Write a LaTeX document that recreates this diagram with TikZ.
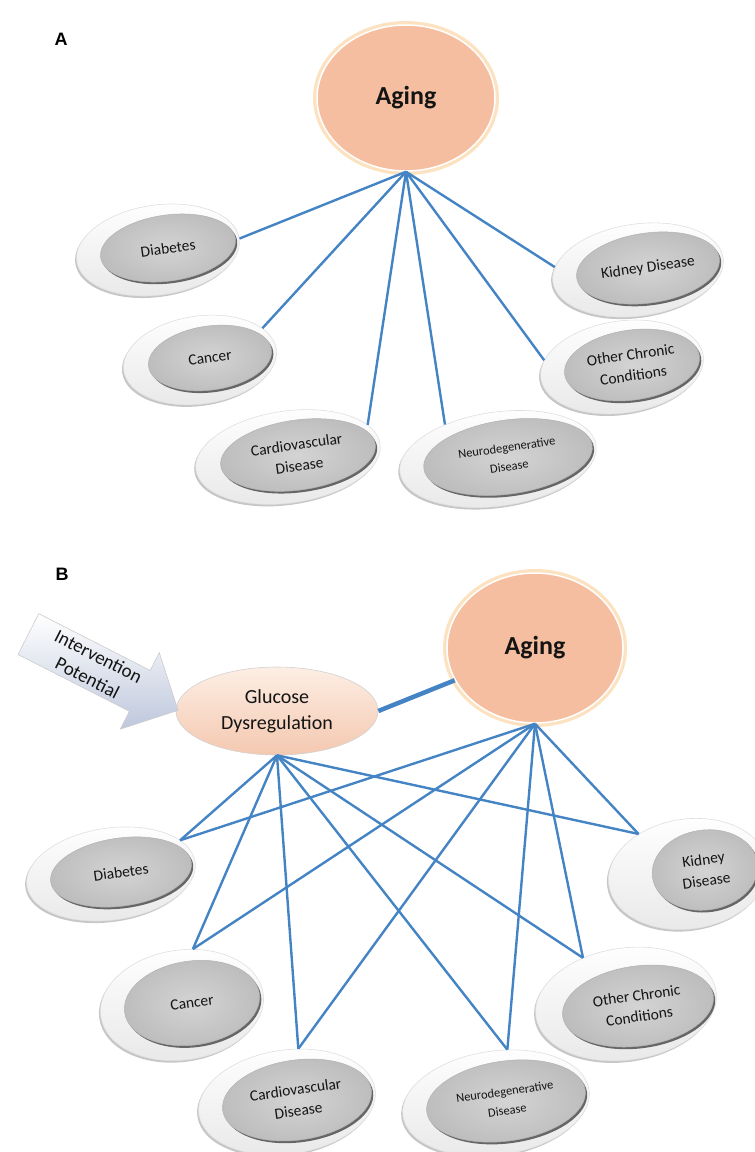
\documentclass[tikz,border=0pt]{standalone}
\usepackage{fontspec}
\setmainfont{Carlito}
\newfontfamily\panelfont{Liberation Sans}
\usetikzlibrary{shapes.geometric,shapes.arrows}

\definecolor{linkblue}{RGB}{68,132,196}
\definecolor{peach}{RGB}{245,190,160}
\definecolor{peachglow}{RGB}{252,226,192}
\definecolor{glutop}{RGB}{253,238,228}
\definecolor{glubot}{RGB}{244,200,176}
\definecolor{arrowblue}{RGB}{190,199,220}
\definecolor{inktext}{RGB}{20,20,20}

\tikzset{
    link/.style={draw=linkblue, line width=2.4pt},
    biglink/.style={draw=linkblue, line width=4.5pt},
    agingnode/.style={ellipse, inner sep=0pt, fill=peach, draw=white, line width=1.5pt,
        preaction={draw=peachglow, line width=8pt}, text=inktext,
        font=\fontsize{26}{30}\selectfont\bfseries},
    glunode/.style={ellipse, inner sep=0pt, top color=glutop, bottom color=glubot,
        draw=gray!35, line width=0.6pt, text=inktext, align=center,
        font=\fontsize{20}{26}\selectfont},
    sickback/.style={ellipse, rotate=8, inner sep=0pt, top color=white, bottom color=gray!18,
        draw=gray!25, line width=0.6pt,
        preaction={fill=gray!45, transform canvas={shift={(-1.5pt,-2pt)}}}},
    sickfront/.style={ellipse, rotate=8, inner sep=0pt, inner color=gray!34, outer color=gray!52,
        draw=gray!60, line width=0.5pt,
        preaction={fill=black!60, transform canvas={shift={(1.8pt,-2.2pt)}}},
        text=inktext, align=center, font=\fontsize{15.5}{21}\selectfont},
    smalltext/.style={font=\fontsize{12.5}{19}\selectfont},
    intervarrow/.style={single arrow, single arrow head extend=20pt, inner sep=4pt,
        top color=white, bottom color=arrowblue, draw=gray!40, line width=0.6pt,
        text=inktext, align=center, font=\fontsize{19}{24}\selectfont},
    panellabel/.style={font=\panelfont\fontsize{18}{20}\selectfont\bfseries}
}

\begin{document}
\begin{tikzpicture}[x=1pt, y=-1pt]
    \useasboundingbox (0,0) rectangle (755,1152);

    % panel A
    \node[panellabel] (labA) at (61,39) {A};
    \node[agingnode, minimum width=178pt, minimum height=146pt] (agingA) at (406,98) {Aging};

    \node[sickback, minimum width=164pt, minimum height=90pt] (diaA) at (158,250) {};
    \node[sickfront, minimum width=136pt, minimum height=66pt] (diaAf) at (168,248) {Diabetes};
    \node[sickback, minimum width=154pt, minimum height=88pt] (canA) at (200,360) {};
    \node[sickfront, minimum width=124pt, minimum height=64pt] (canAf) at (210,358) {Cancer};
    \node[sickback, minimum width=186pt, minimum height=92pt] (carA) at (288,457) {};
    \node[sickfront, minimum width=156pt, minimum height=70pt] (carAf) at (298,455) {Cardiovascular\\Disease};
    \node[sickback, minimum width=198pt, minimum height=94pt] (neuA) at (498,459) {};
    \node[sickfront, smalltext, minimum width=170pt, minimum height=74pt] (neuAf) at (508,457) {Neurodegenerative\\Disease};
    \node[sickback, minimum width=164pt, minimum height=92pt] (othA) at (622,367) {};
    \node[sickfront, minimum width=136pt, minimum height=70pt] (othAf) at (632,365) {Other Chronic\\Conditions};
    \node[sickback, minimum width=172pt, minimum height=92pt] (kidA) at (638,270) {};
    \node[sickfront, minimum width=144pt, minimum height=70pt] (kidAf) at (648,268) {Kidney Disease};

    \draw[link] (agingA.south) -- (diaA.0);
    \draw[link] (agingA.south) -- (canA.19);
    \draw[link] (agingA.south) -- (carA.14);
    \draw[link] (agingA.south) -- (neuA.139);
    \draw[link] (agingA.south) -- (othA.167);
    \draw[link] (agingA.south) -- (kidA.170);

    % panel B
    \node[panellabel] (labB) at (62,574) {B};
    \node[agingnode, minimum width=176pt, minimum height=150pt] (agingB) at (535,648) {Aging};
    \node[glunode, minimum width=202pt, minimum height=88pt] (glu) at (277,711) {Glucose\\Dysregulation};
    \node[intervarrow, rotate=-27, minimum height=168pt] (interv) at (93,667) {Intervention\\Potential};

    \node[sickback, minimum width=170pt, minimum height=92pt] (diaB) at (111,874) {};
    \node[sickfront, minimum width=142pt, minimum height=68pt] (diaBf) at (121,872) {Diabetes};
    \node[sickback, minimum width=164pt, minimum height=110pt] (canB) at (182,1005) {};
    \node[sickfront, minimum width=136pt, minimum height=84pt] (canBf) at (192,1003) {Cancer};
    \node[sickback, minimum width=178pt, minimum height=104pt] (carB) at (287,1102) {};
    \node[sickfront, minimum width=150pt, minimum height=80pt] (carBf) at (297,1100) {Cardiovascular\\Disease};
    \node[sickback, minimum width=188pt, minimum height=104pt] (neuB) at (496,1103) {};
    \node[sickfront, smalltext, minimum width=160pt, minimum height=80pt] (neuBf) at (506,1101) {Neurodegenerative\\Disease};
    \node[sickback, minimum width=182pt, minimum height=112pt] (othB) at (626,1004) {};
    \node[sickfront, minimum width=152pt, minimum height=80pt] (othBf) at (638,1006) {Other Chronic\\Conditions};
    \node[sickback, minimum width=160pt, minimum height=110pt] (kidB) at (688,874) {};
    \node[sickfront, minimum width=106pt, minimum height=80pt] (kidBf) at (705,870) {Kidney\\Disease};

    \draw[biglink] (glu.east) -- (agingB);

    \draw[link] (glu.south) -- (diaB.18);
    \draw[link] (glu.south) -- (canB.71);
    \draw[link] (glu.south) -- (carB.70);
    \draw[link] (glu.south) -- (neuB.70);
    \draw[link] (glu.south) -- (othB.125);
    \draw[link] (glu.south) -- (kidB.133);

    \draw[link] (agingB.south) -- (diaB.18);
    \draw[link] (agingB.south) -- (canB.71);
    \draw[link] (agingB.south) -- (carB.70);
    \draw[link] (agingB.south) -- (neuB.70);
    \draw[link] (agingB.south) -- (othB.125);
    \draw[link] (agingB.south) -- (kidB.133);
\end{tikzpicture}
\end{document}
